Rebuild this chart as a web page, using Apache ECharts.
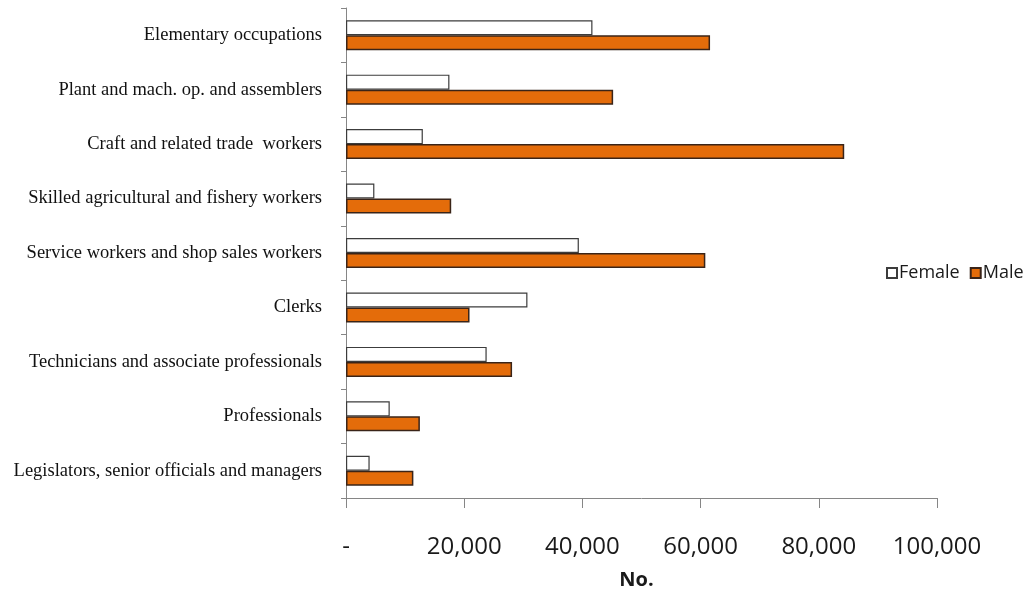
<!DOCTYPE html>
<html>
<head>
<meta charset="utf-8">
<script src="https://cdn.jsdelivr.net/npm/echarts@6/dist/echarts.min.js"></script>
<style>
  html, body { margin: 0; padding: 0; background: #ffffff; }
  #chart { width: 1034px; height: 595px; }
</style>
</head>
<body>
<div id="chart"></div>
<script>
// Occupation groups, listed from the bottom of the axis to the top
const categories = [
  'Legislators, senior officials and managers',
  'Professionals',
  'Technicians and associate professionals',
  'Clerks',
  'Service workers and shop sales workers',
  'Skilled agricultural and fishery workers',
  'Craft and related trade  workers',
  'Plant and mach. op. and assemblers',
  'Elementary occupations'
];

// Number of employed persons by sex
const female = [4000, 7400, 23800, 30700, 39400, 4800, 13000, 17500, 41700];
const male   = [11400, 12500, 28100, 20900, 60800, 17800, 84300, 45200, 61600];

// Value axis ticks
const xMin = 0;
const xMax = 100000;
const xStep = 20000;

const chart = echarts.init(document.getElementById('chart'), null, { renderer: 'canvas' });

chart.setOption({
  animation: false,
  backgroundColor: '#ffffff',
  grid: { left: 346, right: 97, top: 8, bottom: 96, containLabel: false },
  legend: {
    left: 881,
    top: 259,
    orient: 'horizontal',
    icon: 'rect',
    itemWidth: 10,
    itemHeight: 10,
    itemGap: 10,
    textStyle: { fontFamily: 'Open Sans', fontSize: 18, color: '#1a1a1a', padding: [0, 0, 0, -3] },
    data: ['Female', 'Male']
  },
  xAxis: {
    type: 'value',
    min: xMin,
    max: xMax,
    interval: xStep,
    name: 'No.',
    nameLocation: 'middle',
    nameGap: 72,
    nameTextStyle: { fontFamily: 'Open Sans', fontSize: 20, fontWeight: 'bold', color: '#1a1a1a', padding: [0, 10, 0, 0] },
    axisLine: { show: true, lineStyle: { color: '#868686', width: 1 } },
    axisTick: { show: true, length: 10, lineStyle: { color: '#868686' } },
    splitLine: { show: false },
    axisLabel: {
      margin: 37,
      fontFamily: 'Open Sans',
      fontSize: 24,
      color: '#1a1a1a',
      formatter: v => v === 0 ? '-' : v.toLocaleString('en-US')
    }
  },
  yAxis: {
    type: 'category',
    data: categories,
    axisLine: { show: true, lineStyle: { color: '#868686', width: 1 } },
    axisTick: { show: true, length: 5, lineStyle: { color: '#868686' } },
    axisLabel: {
      margin: 24,
      fontFamily: 'Liberation Serif',
      fontSize: 18.5,
      color: '#111111',
      padding: [5, 0, 0, 0]
    }
  },
  series: [
    {
      name: 'Female',
      type: 'bar',
      data: female,
      barWidth: 15,
      barGap: '0%',
      itemStyle: { color: '#ffffff', borderColor: '#3c3c3c', borderWidth: 1.2 }
    },
    {
      name: 'Male',
      type: 'bar',
      data: male,
      barWidth: 15,
      itemStyle: { color: '#E46C0A', borderColor: '#3a2418', borderWidth: 1.5 }
    }
  ]
});
</script>
</body>
</html>
